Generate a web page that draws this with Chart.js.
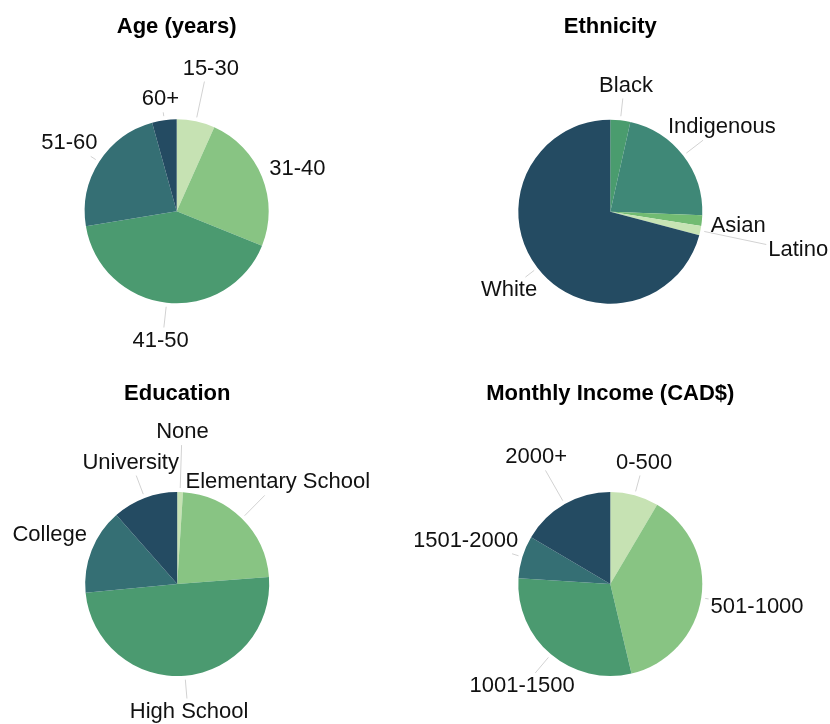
<!DOCTYPE html>
<html>
<head>
<meta charset="utf-8">
<script src="https://cdn.jsdelivr.net/npm/chart.js@4.4.1/dist/chart.umd.min.js"></script>
<style>
    html, body { margin: 0; padding: 0; background: #fff; }
    .grid {
        display: grid;
        grid-template-columns: 415px 415px;
        grid-template-rows: 362px 362px;
        width: 830px;
        height: 724px;
    }
    canvas { display: block; }
</style>
</head>
<body>
<div class="grid">
    <canvas id="graficoIdade" width="415" height="362"></canvas>
    <canvas id="graficoEtnia" width="415" height="362"></canvas>
    <canvas id="graficoEscolaridade" width="415" height="362"></canvas>
    <canvas id="graficoRenda" width="415" height="362"></canvas>
</div>
<script>
const ageLabels = ['15-30', '31-40', '41-50', '51-60', '60+'];
const ageValues = [6.7, 24.4, 41.3, 23.3, 4.3];

const ethnicityLabels = ['Black', 'Indigenous', 'Asian', 'Latino', 'White'];
const ethnicityValues = [3.5, 22.1, 1.9, 1.6, 70.9];

const educationLabels = ['None', 'Elementary School', 'High School', 'College', 'University'];
const educationValues = [1.0, 22.8, 49.7, 15.0, 11.5];

const incomeLabels = ['0-500', '501-1000', '1001-1500', '1501-2000', '2000+'];
const incomeValues = [8.5, 37.8, 29.7, 7.5, 16.5];

const FONTE = '"Liberation Sans", Arial, Helvetica, sans-serif';
const RAIO = 92;

const coresEscala = ['#c6e2b3', '#88c483', '#4b9a70', '#356f74', '#244b62'];
const coresEtnia = ['#4a9c6e', '#3f8877', '#72bb72', '#c7e4b4', '#244b62'];

// where the ray from the pie centre first enters the label box
function entradaRaio(x, y, dx, dy, box) {
    let tmin = -Infinity;
    let tmax = Infinity;
    const eixos = [[x, dx, box.l, box.r], [y, dy, box.t, box.b]];
    for (const [o, d, a, b] of eixos) {
        if (Math.abs(d) < 1e-9) {
            if (o < a || o > b) return null;
            continue;
        }
        const t1 = (a - o) / d;
        const t2 = (b - o) / d;
        tmin = Math.max(tmin, Math.min(t1, t2));
        tmax = Math.min(tmax, Math.max(t1, t2));
    }
    return tmin <= tmax && tmin > 0 ? tmin : null;
}

// title centred over the pie (the built-in title gets squeezed to the chart area width)
const tituloPizza = {
    id: 'tituloPizza',
    afterDraw(chart, args, opts) {
        const ctx = chart.ctx;
        const arc = chart.getDatasetMeta(0).data[0];
        if (!arc) return;

        ctx.save();
        ctx.font = `bold ${opts.size}px ${FONTE}`;
        ctx.fillStyle = '#000';
        ctx.textAlign = 'center';
        ctx.textBaseline = 'middle';
        ctx.fillText(opts.text, arc.x, opts.y);
        ctx.restore();
    }
};

// slice names outside the pie, with a thin leader line when the label sits far out
const rotulosExternos = {
    id: 'rotulosExternos',
    afterDatasetsDraw(chart, args, opts) {
        const ctx = chart.ctx;
        const meta = chart.getDatasetMeta(0);
        const labels = chart.data.labels;
        const ajustes = opts.ajustes || {};
        const h = opts.size;

        ctx.save();
        ctx.font = `${opts.size}px ${FONTE}`;
        ctx.textAlign = 'center';
        ctx.textBaseline = 'middle';

        meta.data.forEach(function (arc, i) {
            const p = arc.getProps(['x', 'y', 'startAngle', 'endAngle', 'outerRadius'], true);
            const meio = (p.startAngle + p.endAngle) / 2;
            const dx = Math.cos(meio);
            const dy = Math.sin(meio);
            const aj = Object.assign({ gap: opts.gap, dx: 0, dy: 0 }, ajustes[labels[i]]);
            const w = ctx.measureText(labels[i]).width;
            const r = p.outerRadius + aj.gap;
            const cx = p.x + dx * r + dx * w / 2 + aj.dx;
            const cy = p.y + dy * r + dy * h / 2 + aj.dy;

            const box = { l: cx - w / 2 - 2, r: cx + w / 2 + 2, t: cy - h / 2 - 2, b: cy + h / 2 + 2 };
            const fim = entradaRaio(p.x, p.y, dx, dy, box);
            const inicio = p.outerRadius + 4;
            if (fim && fim > inicio + 3) {
                ctx.beginPath();
                ctx.strokeStyle = '#d2d2d2';
                ctx.lineWidth = 1;
                ctx.moveTo(p.x + dx * inicio, p.y + dy * inicio);
                ctx.lineTo(p.x + dx * fim, p.y + dy * fim);
                ctx.stroke();
            }

            ctx.fillStyle = '#111';
            ctx.fillText(labels[i], cx, cy);
        });
        ctx.restore();
    }
};

function criarPizza(id, titulo, labels, valores, cores, centro, tituloY, ajustes) {
    const canvas = document.getElementById(id);

    return new Chart(canvas, {
        type: 'pie',
        data: {
            labels: labels,
            datasets: [{
                data: valores,
                backgroundColor: cores,
                borderWidth: 0
            }]
        },
        options: {
            responsive: false,
            animation: false,
            events: [],
            layout: {
                padding: {
                    left: centro.x - RAIO,
                    right: canvas.width - (centro.x + RAIO),
                    top: centro.y - RAIO,
                    bottom: canvas.height - (centro.y + RAIO)
                }
            },
            plugins: {
                legend: { display: false },
                tooltip: { enabled: false },
                title: { display: false },
                tituloPizza: {
                    text: titulo,
                    size: 22,
                    y: tituloY
                },
                rotulosExternos: {
                    size: 22,
                    gap: 10,
                    ajustes: ajustes
                }
            }
        },
        plugins: [rotulosExternos, tituloPizza]
    });
}

criarPizza('graficoIdade', 'Age (years)', ageLabels, ageValues, coresEscala,
    { x: 176.7, y: 211.3 }, 27, {
        '15-30': { gap: 43 },
        '41-50': { gap: 27 },
        '51-60': { gap: 12, dx: 4, dy: -6 }
    });

criarPizza('graficoEtnia', 'Ethnicity', ethnicityLabels, ethnicityValues, coresEtnia,
    { x: 195.3, y: 211.7 }, 27, {
        Black: { gap: 24 },
        Indigenous: { gap: 24, dx: -23, dy: -7 },
        Asian: { gap: 9, dy: 3 },
        Latino: { gap: 66, dx: 4, dy: 3 },
        White: { gap: 14, dx: 5, dy: 7 }
    });

criarPizza('graficoEscolaridade', 'Education', educationLabels, educationValues, coresEscala,
    { x: 177.2, y: 222 }, 31.7, {
        None: { gap: 49 },
        'Elementary School': { gap: 30, dx: -50, dy: -7 },
        'High School': { gap: 25, dx: -3 },
        College: { gap: 11, dx: 3, dy: -7 },
        University: { gap: 14, dx: 8, dy: -12 }
    });

criarPizza('graficoRenda', 'Monthly Income (CAD$)', incomeLabels, incomeValues, coresEscala,
    { x: 195.3, y: 222 }, 31.7, {
        '0-500': { gap: 23, dx: -4 },
        '501-1000': { gap: 10, dy: 6 },
        '1001-1500': { gap: 20, dx: 18, dy: 8 },
        '1501-2000': { gap: 10, dx: 3, dy: -10 },
        '2000+': { gap: 37, dx: 5, dy: -5 }
    });
</script>
</body>
</html>
